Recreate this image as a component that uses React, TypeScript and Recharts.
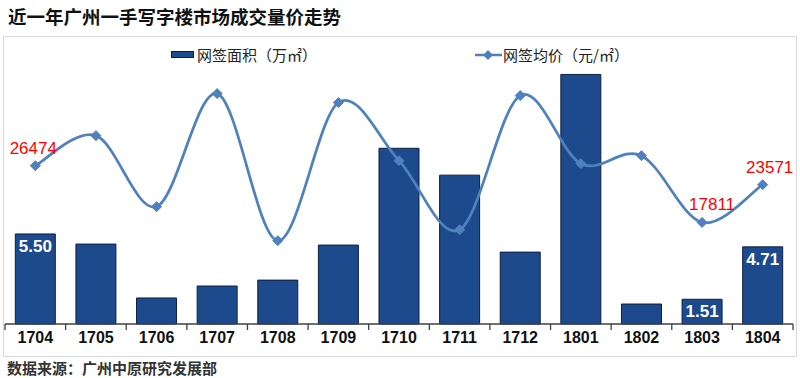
import React from 'react';
import { ComposedChart, Bar, Line, XAxis, YAxis, LabelList, Legend } from 'recharts';

const months = ['1704', '1705', '1706', '1707', '1708', '1709', '1710', '1711', '1712', '1801', '1802', '1803', '1804'];
const areaValues = [5.5, 4.88, 1.59, 2.32, 2.68, 4.82, 10.73, 9.09, 4.39, 15.24, 1.22, 1.51, 4.71];
const priceValues = [26474, 31058, 20209, 37476, 15014, 36100, 27238, 16695, 37170, 26780, 28000, 17811, 23571];
const labeledMonths = ['1704', '1803', '1804'];

const title = '近一年广州一手写字楼市场成交量价走势';
const source = '数据来源：广州中原研究发展部';
const areaName = '网签面积（万㎡）';
const priceName = '网签均价（元/㎡）';

const data = months.map((m, i) => ({
  month: m,
  area: areaValues[i],
  price: priceValues[i],
  areaLabel: labeledMonths.includes(m) ? areaValues[i].toFixed(2) : null,
  priceLabel: labeledMonths.includes(m) ? String(priceValues[i]) : null,
}));

const W = 800;
const H = 378;
const M = { top: 62, right: 7, bottom: 24, left: 5 };
const BAND = (W - M.left - M.right) / months.length;

const BAR_FILL = '#1c4a8c';
const LINE_COLOR = '#4f81bd';

function excelCurve(context: any) {
  let pts: number[][] = [];
  return {
    areaStart() {},
    areaEnd() {},
    lineStart() {
      pts = [];
    },
    point(x: number, y: number) {
      pts.push([+x, +y]);
    },
    lineEnd() {
      const n = pts.length;
      if (!n) return;
      context.moveTo(pts[0][0], pts[0][1]);
      for (let i = 0; i < n - 1; i++) {
        const p0 = pts[Math.max(i - 1, 0)];
        const p1 = pts[i];
        const p2 = pts[i + 1];
        const p3 = pts[Math.min(i + 2, n - 1)];
        context.bezierCurveTo(
          p1[0] + (p2[0] - p0[0]) / 6,
          p1[1] + (p2[1] - p0[1]) / 6,
          p2[0] - (p3[0] - p1[0]) / 6,
          p2[1] - (p3[1] - p1[1]) / 6,
          p2[0],
          p2[1]
        );
      }
    },
  };
}

const Diamond = (props: any) => {
  const { cx, cy } = props;
  if (cx == null || cy == null) return null;
  const r = 5;
  return (
    <polygon
      points={`${cx},${cy - r} ${cx + r},${cy} ${cx},${cy + r} ${cx - r},${cy}`}
      fill={LINE_COLOR}
      stroke={LINE_COLOR}
      strokeWidth={1}
    />
  );
};

const CustomTick = (props: any) => {
  const { x, y, payload, index } = props;
  const half = BAND / 2;
  const last = index === months.length - 1;
  return (
    <g>
      <line x1={x - half} x2={x - half} y1={y} y2={y + 6} stroke="#404040" strokeWidth={1.3} />
      {last && <line x1={x + half} x2={x + half} y1={y} y2={y + 6} stroke="#404040" strokeWidth={1.3} />}
      <text
        x={x}
        y={y + 19}
        textAnchor="middle"
        fontFamily="'Liberation Sans', Arial, sans-serif"
        fontSize={16}
        fontWeight="bold"
        fill="#111"
      >
        {payload.value}
      </text>
    </g>
  );
};

const priceLabelDx: Record<string, number> = { '1704': -2, '1803': 10, '1804': 7 };

const PriceLabel = (props: any) => {
  const { x, y, value, index } = props;
  if (value == null) return null;
  const m = months[index];
  return (
    <text
      x={x + (priceLabelDx[m] || 0)}
      y={y - 12}
      textAnchor="middle"
      fontFamily="'Liberation Sans', Arial, sans-serif"
      fontSize={17}
      fill="#ff0000"
    >
      {value}
    </text>
  );
};

const AreaLabel = (props: any) => {
  const { x, y, width, value } = props;
  if (value == null) return null;
  return (
    <text
      x={x + width / 2}
      y={y + 18}
      textAnchor="middle"
      fontFamily="'Liberation Sans', Arial, sans-serif"
      fontSize={17}
      fontWeight="bold"
      fill="#ffffff"
    >
      {value}
    </text>
  );
};

const LegendContent = () => (
  <div style={{ position: 'relative', width: W, height: 22, fontFamily: "'Noto Sans CJK SC', sans-serif", fontSize: 15, color: '#222' }}>
    <div style={{ position: 'absolute', left: 171, top: 7, width: 23, height: 7, background: BAR_FILL, border: '1px solid #0d2040', boxSizing: 'border-box' }} />
    <div style={{ position: 'absolute', left: 197, top: 0, lineHeight: '22px', whiteSpace: 'nowrap' }}>{areaName}</div>
    <svg style={{ position: 'absolute', left: 474, top: 0 }} width={30} height={22}>
      <line x1={1} x2={28} y1={11} y2={11} stroke={LINE_COLOR} strokeWidth={2.5} />
      <polygon points="14,6 19,11 14,16 9,11" fill={LINE_COLOR} />
    </svg>
    <div style={{ position: 'absolute', left: 503, top: 0, lineHeight: '22px', whiteSpace: 'nowrap' }}>{priceName}</div>
  </div>
);

export default function App() {
  return (
    <div style={{ position: 'absolute', left: 0, top: 0, width: W, height: H, background: '#fff', overflow: 'hidden' }}>
      <div
        style={{
          position: 'absolute',
          left: 8,
          top: 3,
          fontFamily: "'Noto Sans CJK SC', sans-serif",
          fontWeight: 'bold',
          fontSize: 18.5,
          lineHeight: '26px',
          color: '#111',
          whiteSpace: 'nowrap',
        }}
      >
        {title}
      </div>
      <div
        style={{
          position: 'absolute',
          left: 3,
          top: 36,
          width: 794,
          height: 321,
          border: '1.5px solid #d9d9d9',
          boxSizing: 'border-box',
        }}
      />
      <div style={{ position: 'absolute', left: 0, top: 0 }}>
        <ComposedChart width={W} height={H} data={data} margin={M} barCategoryGap="17%">
          <XAxis
            dataKey="month"
            height={30}
            tickLine={false}
            tickSize={0}
            tickMargin={0}
            axisLine={{ stroke: '#404040', strokeWidth: 1.5 }}
            tick={<CustomTick />}
            interval={0}
          />
          <YAxis yAxisId="left" hide domain={[0, 16]} />
          <YAxis yAxisId="right" hide orientation="right" domain={[2300, 42300]} />
          <Legend
            layout="horizontal"
            verticalAlign="middle"
            align="center"
            wrapperStyle={{ position: 'absolute', left: 0, top: 44, width: W, height: 22 }}
            content={<LegendContent />}
          />
          <Bar yAxisId="left" dataKey="area" name={areaName} fill={BAR_FILL} stroke="#0d2040" strokeWidth={1} isAnimationActive={false}>
            <LabelList dataKey="areaLabel" content={<AreaLabel />} />
          </Bar>
          <Line
            yAxisId="right"
            dataKey="price"
            name={priceName}
            type={excelCurve as any}
            stroke={LINE_COLOR}
            strokeWidth={2.75}
            dot={<Diamond />}
            activeDot={false}
            isAnimationActive={false}
          >
            <LabelList dataKey="priceLabel" content={<PriceLabel />} />
          </Line>
        </ComposedChart>
      </div>
      <div
        style={{
          position: 'absolute',
          left: 7,
          top: 357,
          fontFamily: "'Noto Sans CJK SC', sans-serif",
          fontWeight: 'bold',
          fontSize: 15,
          lineHeight: '22px',
          color: '#333',
          whiteSpace: 'nowrap',
        }}
      >
        {source}
      </div>
    </div>
  );
}
